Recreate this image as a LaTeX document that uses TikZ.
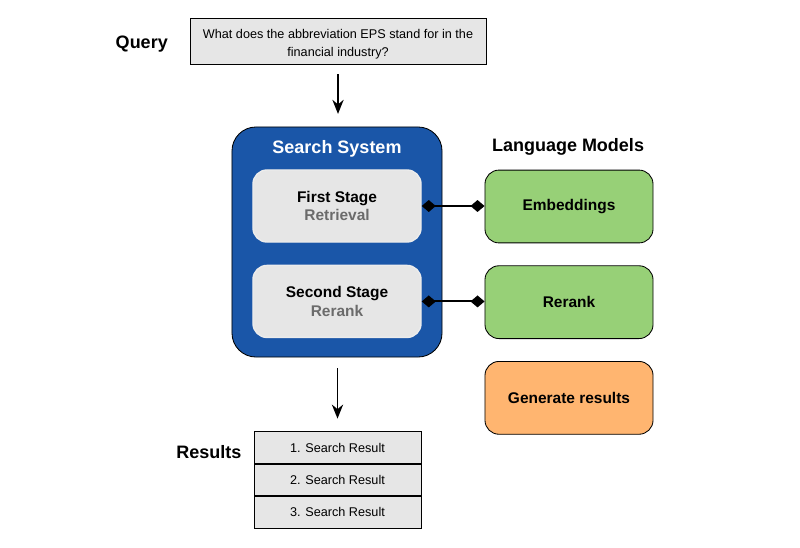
\documentclass[tikz,border=0pt]{standalone}
\usepackage{fontspec}
\setmainfont{Liberation Sans}
\usetikzlibrary{arrows.meta,
                chains,
                positioning}
\definecolor{sysblue}{HTML}{1A56A8}
\definecolor{boxgray}{HTML}{E6E6E6}
\definecolor{subgray}{HTML}{6B6B6B}
\definecolor{lmgreen}{HTML}{97D077}
\definecolor{genorange}{HTML}{FFB570}
\tikzset{
       arr/.style = {-{Stealth[length=10pt,width=8pt]}, line width=1.3pt},   % <--- arrows
      link/.style = {{Diamond[length=10pt,width=8.5pt]}-{Diamond[length=10pt,width=8.5pt]}, line width=1.4pt},
     title/.style = {font=\fontsize{12.8}{14}\selectfont\bfseries},
      base/.style = {draw, line width=0.6pt, align=center, inner sep=2pt},
    textbox/.style = {base, fill=boxgray, font=\fontsize{9}{13}\selectfont},
     stage/.style = {base, draw=gray!15, line width=1pt, fill=boxgray, rounded corners=3.5mm,
                     minimum width=4.2cm, minimum height=1.8cm,
                     font=\fontsize{11}{13}\selectfont\bfseries},
     model/.style = {base, rounded corners=3.5mm, %fill=lmgreen
                     minimum width=4.2cm, minimum height=1.82cm,
                     font=\fontsize{11}{13}\selectfont\bfseries},
    result/.style = {textbox, minimum width=4.175cm, minimum height=0.79cm, on chain},
        }
\begin{document}
\begin{tikzpicture}[x=0.025cm, y=-0.025cm, node distance=5.5mm]
  \useasboundingbox (0,0) rectangle (800,547);

  % query
  \node[textbox, minimum width=7.4cm, minimum height=1.15cm, text height=24pt, text depth=2pt] (query) at (338,41)
       {What does the abbreviation EPS stand for in the\\financial industry?};
  \node[title, left=4.2mm of query, yshift=-2pt] (querylbl) {Query};

  % search system
  \node[draw, line width=0.6pt, fill=sysblue, rounded corners=6mm,
        minimum width=5.25cm, minimum height=5.75cm] (sys) at (337,242) {};
  \node[title, text=white, below=2.2mm of sys.north] (systitle) {Search System};
  \node[stage] (first) at (337,206) {First Stage\\\textcolor{subgray}{Retrieval}};
  \node[stage, below=of first] (second) {Second Stage\\\textcolor{subgray}{Rerank}};

  % language models
  \node[model, fill=lmgreen] (embed) at (569,206.5) {Embeddings};
  \node[model, fill=lmgreen, below=of embed] (rerank) {Rerank};
  \node[model, fill=genorange, below=of rerank] (gen) {Generate results};
  \node[title] (lmlbl) at (568,147) {Language Models};

  \draw[link] (first.east) -- (first.east -| embed.west);
  \draw[link] (second.east) -- (second.east -| rerank.west);

  % results
  \begin{scope}[start chain=res going below, node distance=0pt]
    \node[result] (res1) at (337.5,447.5) {1. Search Result};
    \node[result] (res2) {2. Search Result};
    \node[result] (res3) {3. Search Result};
  \end{scope}
  \node[title, left=1.8mm of res1, yshift=-3pt] (reslbl) {Results};

  \draw[arr, shorten <=7pt, shorten >=9pt] (query.south) -- (query.south |- sys.north);
  \draw[arr, shorten <=7.5pt, shorten >=9pt] (res1.north |- sys.south) -- (res1.north);
\end{tikzpicture}
\end{document}
